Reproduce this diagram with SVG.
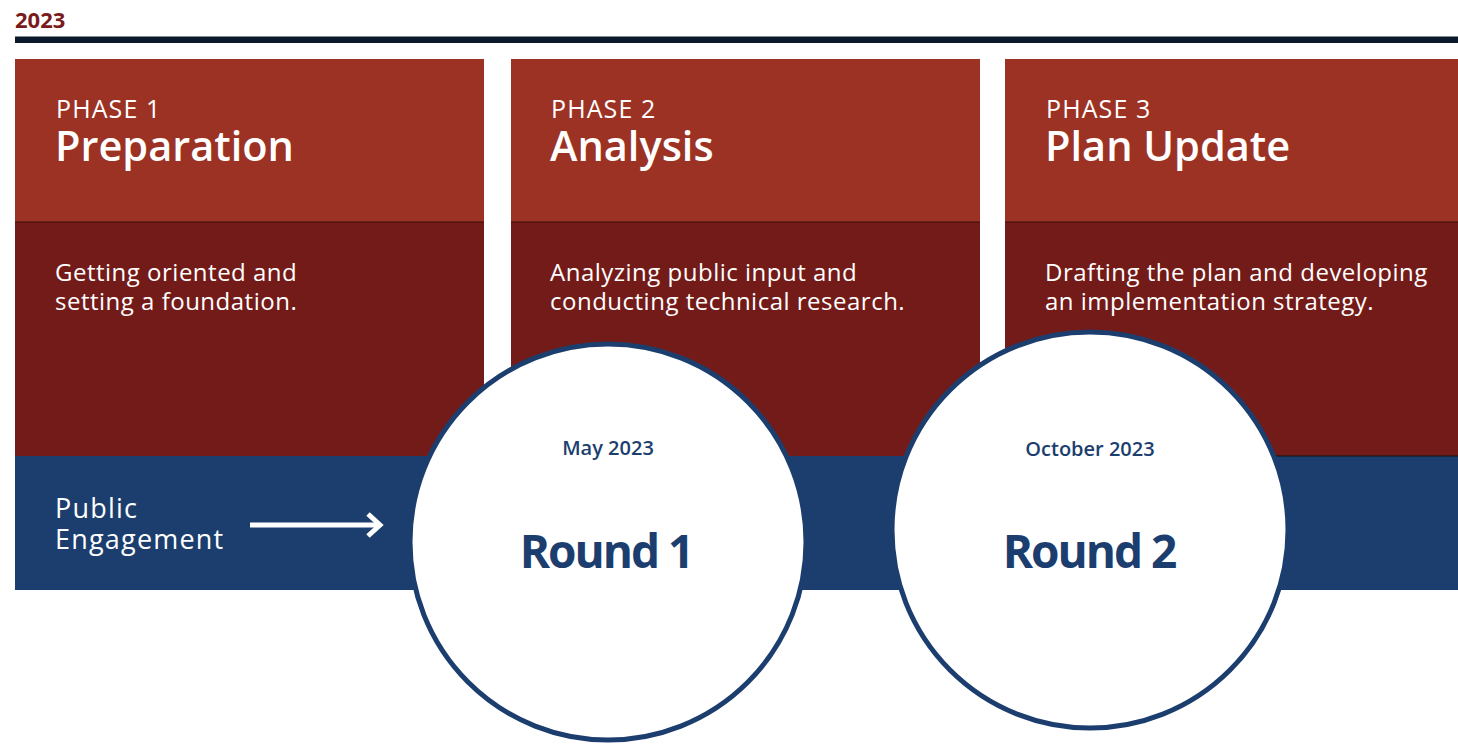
<svg xmlns="http://www.w3.org/2000/svg" width="1458" height="744" viewBox="0 0 1458 744">
<style>
.top{fill:#9c3224}
.low{fill:#731b19}
.band{fill:#1c3e6e}
.ph{font-family:"Open Sans","Noto Sans",sans-serif;font-size:25px;fill:#fff;font-weight:400;letter-spacing:1.1px}
.ttl{font-family:"Open Sans","Noto Sans",sans-serif;font-size:41.5px;fill:#fff;font-weight:600}
.desc{font-family:"Open Sans","Noto Sans",sans-serif;font-size:24px;fill:#fff;letter-spacing:0.5px}
.eng{font-family:"Open Sans","Noto Sans",sans-serif;font-size:27px;fill:#fff;font-weight:400;letter-spacing:1.2px}
.circ{fill:#fff;stroke:#1c3e6e;stroke-width:5}
.date{font-family:"Open Sans","Noto Sans",sans-serif;font-size:20px;fill:#1c3e6e;font-weight:600;text-anchor:middle}
.round{font-family:"Open Sans","Noto Sans",sans-serif;font-size:46px;fill:#1c3e6e;font-weight:700;text-anchor:middle;letter-spacing:-2px}
</style>
<rect width="1458" height="744" fill="#fff"/>
<g id="header">
<text x="15" y="28" font-family="Open Sans, Noto Sans, sans-serif" font-size="22" font-weight="700" fill="#7a1a1a">2023</text>
<rect x="15" y="36.5" width="1443" height="6.5" fill="#0a1a2a"/>
</g>
<g id="band">
<rect class="band" x="15" y="456" width="1443" height="134"/>
</g>
<g id="phase1">
<rect class="top" x="15" y="59" width="469" height="163"/>
<rect class="low" x="15" y="222" width="469" height="234"/>
<line x1="15" y1="222" x2="484" y2="222" stroke="#3a0c0a" stroke-width="1"/>
<text class="ph" x="56" y="118">PHASE 1</text>
<text class="ttl" x="55" y="161">Preparation</text>
<text class="desc" x="55" y="281">Getting oriented and</text>
<text class="desc" x="55" y="310">setting a foundation.</text>
</g>
<g id="phase2">
<rect class="top" x="511" y="59" width="469" height="163"/>
<rect class="low" x="511" y="222" width="469" height="234"/>
<line x1="511" y1="222" x2="980" y2="222" stroke="#3a0c0a" stroke-width="1"/>
<text class="ph" x="551" y="118">PHASE 2</text>
<text class="ttl" x="550" y="161">Analysis</text>
<text class="desc" x="550" y="281">Analyzing public input and</text>
<text class="desc" x="550" y="310">conducting technical research.</text>
</g>
<g id="phase3">
<rect class="top" x="1005" y="59" width="453" height="163"/>
<rect class="low" x="1005" y="222" width="453" height="234"/>
<line x1="1005" y1="222" x2="1458" y2="222" stroke="#3a0c0a" stroke-width="1"/>
<line x1="1005" y1="456" x2="1458" y2="456" stroke="#111" stroke-width="1.2"/>
<text class="ph" x="1046" y="118">PHASE 3</text>
<text class="ttl" x="1045" y="161">Plan Update</text>
<text class="desc" x="1045" y="281">Drafting the plan and developing</text>
<text class="desc" x="1045" y="310">an implementation strategy.</text>
</g>
<g id="engagement">
<text class="eng" x="55" y="518">Public</text>
<text class="eng" x="55" y="549">Engagement</text>
</g>
<g id="connectors">
<line x1="250" y1="525" x2="379" y2="525" stroke="#fff" stroke-width="5"/>
<polyline points="368,514 380,525 368,536" fill="none" stroke="#fff" stroke-width="5"/>
</g>
<g id="round1">
<circle class="circ" cx="608" cy="542" r="198"/>
<text class="date" x="608" y="455">May 2023</text>
<text class="round" x="606" y="568">Round 1</text>
</g>
<g id="round2">
<circle class="circ" cx="1090" cy="530" r="198"/>
<text class="date" x="1090" y="456">October 2023</text>
<text class="round" x="1089" y="568">Round 2</text>
</g>
</svg>
